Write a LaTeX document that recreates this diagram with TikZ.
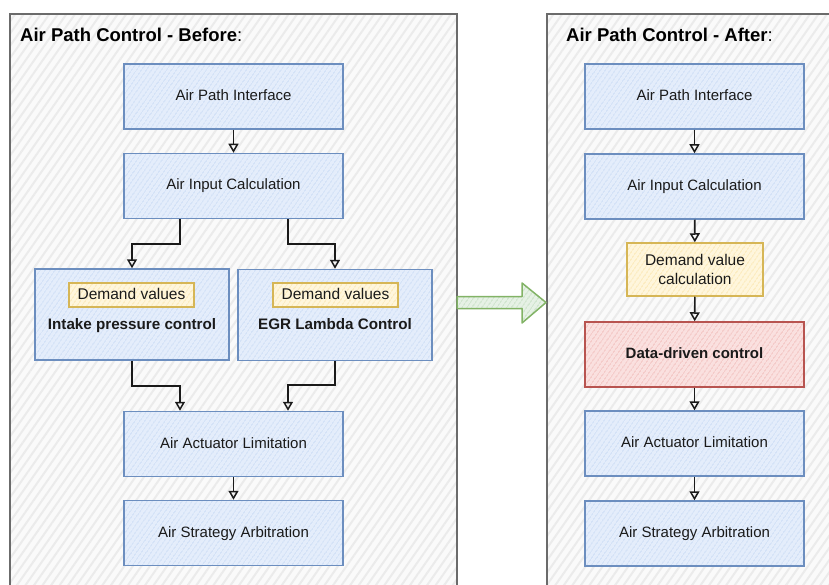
\documentclass[tikz,border=0pt]{standalone}
\usepackage{fontspec}
\setmainfont{Liberation Sans}
\usetikzlibrary{arrows.meta,patterns.meta}
\definecolor{bfill}{HTML}{E4EDFB}
\definecolor{bhatch}{HTML}{CCDDF6}
\definecolor{bstroke}{HTML}{6C8EBF}
\definecolor{yfill}{HTML}{FFF6DC}
\definecolor{yhatch}{HTML}{FBE8B4}
\definecolor{ystroke}{HTML}{D6B656}
\definecolor{rfill}{HTML}{FAE0DF}
\definecolor{rhatch}{HTML}{F2C0BE}
\definecolor{rstroke}{HTML}{B85450}
\definecolor{gfill}{HTML}{E6F1E5}
\definecolor{ghatch}{HTML}{C6E0C4}
\definecolor{gstroke}{HTML}{82B366}
\definecolor{pfill}{HTML}{FAFAFA}
\definecolor{phatch}{HTML}{EBEBEB}
\definecolor{pstroke}{HTML}{6B6B6B}
\definecolor{txt}{HTML}{1A1A1A}
\newcommand{\fsz}[1]{\fontsize{#1}{#1}\selectfont}
\tikzset{
  hatched/.style n args={3}{draw=#3, preaction={fill=#1},
    pattern={Lines[angle=55,distance=4pt,line width=1.3pt]}, pattern color=#2},
  bluebox/.style={hatched={bfill}{bhatch}{bstroke}, line width=1.5pt,
    minimum width=219pt, minimum height=65pt, inner sep=0pt,
    font=\fsz{15}, text=txt, text height=11pt, text depth=3pt},
  ctlbox/.style={hatched={bfill}{bhatch}{bstroke}, line width=1.5pt,
    minimum width=194pt, minimum height=91pt, inner sep=0pt},
  dvbox/.style={hatched={yfill}{yhatch}{ystroke}, line width=1.5pt,
    minimum width=125pt, minimum height=24pt, inner sep=0pt,
    font=\fsz{15.5}, text=txt, text height=11.5pt, text depth=3pt},
  ylbox/.style={hatched={yfill}{yhatch}{ystroke}, line width=1.5pt,
    minimum width=136pt, minimum height=53pt, inner sep=0pt, align=center,
    font=\fsz{15.5}, text=txt},
  redbox/.style={hatched={rfill}{rhatch}{rstroke}, line width=1.5pt,
    minimum width=219pt, minimum height=65pt, inner sep=0pt,
    font=\fsz{15}\bfseries, text=txt, text height=11pt, text depth=3pt},
  ctltext/.style={font=\fsz{15.2}\bfseries, text=txt, inner sep=0pt,
    text height=11pt, text depth=3pt},
  title/.style={anchor=west, font=\fsz{18.5}, text=black, inner sep=0pt},
  panel/.style={draw=pstroke, line width=1.6pt, preaction={fill=pfill},
    pattern={Lines[angle=55,distance=7pt,line width=2pt]}, pattern color=phatch},
  arr/.style={draw=txt, line width=1.6pt,
    -{Triangle[open,length=9pt,width=10pt,line width=1.5pt]}},
  bigarrow/.style={hatched={gfill}{ghatch}{gstroke}, line width=1.5pt, line join=round}
}
\begin{document}
\begin{tikzpicture}[x=1pt,y=-1pt]
\useasboundingbox (0,0) rectangle (829,585);
% panels
\path[panel] (10,14) rectangle (457,600);
\path[panel] (547,14) rectangle (845,600);
\node[title] (tl) at (20,35) {\textbf{Air Path Control - Before}:};
\node[title] (tr) at (566,35) {\textbf{Air Path Control - After}:};
% green arrow
\coordinate (ga) at (457,302.5);
\path[bigarrow] (ga) ++(0,-6) -- ++(65,0) -- ++(0,-13.5) -- ++(24,19.5)
  -- ++(-24,20.5) -- ++(0,-14.5) -- ++(-65,0) -- cycle;
% left column
\node[bluebox] (api) at (233.5,96.5) {Air Path Interface};
\node[bluebox] (aic) at (233.5,186) {Air Input Calculation};
\node[ctlbox] (ipc) at (132,314.5) {};
\node[ctlbox] (egr) at (335,315) {};
\node[dvbox] (dv1) at (131.5,295) {Demand values};
\node[dvbox] (dv2) at (335.5,295) {Demand values};
\node[ctltext] (t1) at (132,325) {Intake pressure control};
\node[ctltext] (t2) at (335,325) {EGR Lambda Control};
\node[bluebox] (aal) at (233.5,444) {Air Actuator Limitation};
\node[bluebox] (asa) at (233.5,533) {Air Strategy Arbitration};
\draw[arr] (api) -- (aic);
\draw[arr] ([xshift=-53.5pt]aic.south) -- ++(0,25) -| (ipc.north);
\draw[arr] ([xshift=54.5pt]aic.south) -- ++(0,25) -| (egr.north);
\draw[arr] (ipc.south) -- ++(0,25) -| ([xshift=-53.5pt]aal.north);
\draw[arr] (egr.south) -- ++(0,24) -| ([xshift=54.5pt]aal.north);
\draw[arr] (aal) -- (asa);
% right column
\node[bluebox] (rapi) at (694.5,96.5) {Air Path Interface};
\node[bluebox] (raic) at (694.5,186.5) {Air Input Calculation};
\node[ylbox] (rdv) at (695,269.5) {Demand value\\[3pt]calculation};
\node[redbox] (rdd) at (694.5,354.5) {Data-driven control};
\node[bluebox] (raal) at (694.5,443.5) {Air Actuator Limitation};
\node[bluebox] (rasa) at (694.5,533.5) {Air Strategy Arbitration};
\draw[arr] (rapi) -- (raic);
\draw[arr] (raic) -- (rdv);
\draw[arr] (rdv) -- (rdd);
\draw[arr] (rdd) -- (raal);
\draw[arr] (raal) -- (rasa);
\end{tikzpicture}
\end{document}
